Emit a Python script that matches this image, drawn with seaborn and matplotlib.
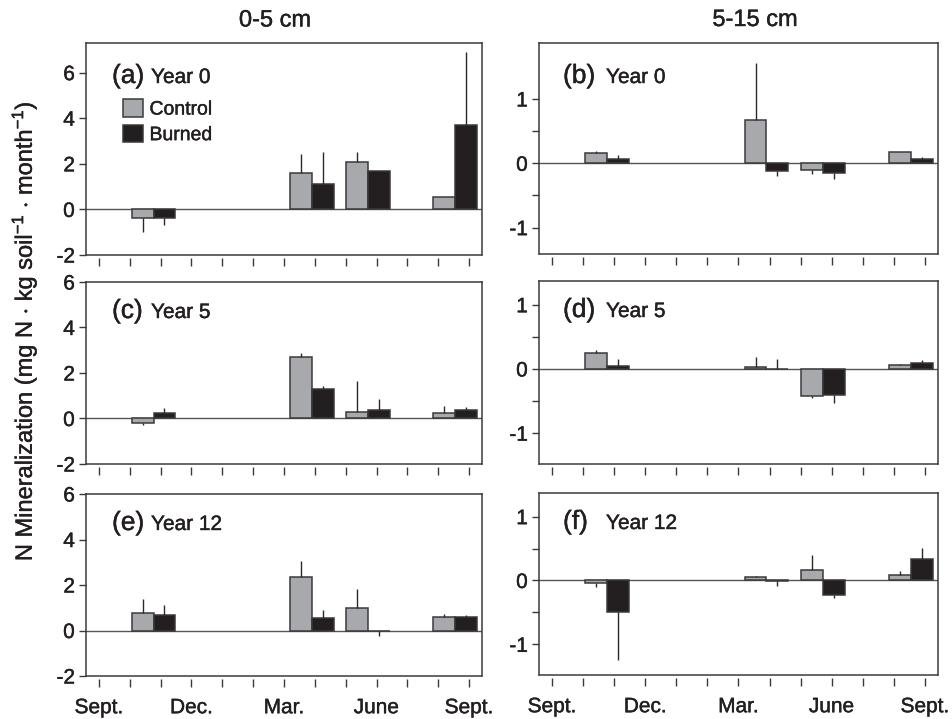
import matplotlib
matplotlib.use("Agg")
import matplotlib.pyplot as plt
import matplotlib.patheffects as pe
import numpy as np
import pandas as pd
import seaborn as sns
from matplotlib.lines import Line2D

sns.set_style("ticks")
plt.rcParams["font.family"] = ["Liberation Sans", "DejaVu Sans"]
plt.rcParams["mathtext.fontset"] = "custom"
plt.rcParams["mathtext.rm"] = "Liberation Sans"
plt.rcParams["mathtext.it"] = "Liberation Sans:italic"
plt.rcParams["mathtext.bf"] = "Liberation Sans:bold"

# ---------------- data ----------------
months = ["Sept.", "Oct.", "Nov.", "Dec.", "Jan.", "Feb.", "Mar.", "Apr.", "May", "June", "July", "Aug.", "Sept."]
month_labels = ["Sept.", "", "", "Dec.", "", "", "Mar.", "", "", "June", "", "", "Sept."]
sample_pos = [1.77, 6.9, 8.72, 11.55]          # sampling dates (month index from Sept.)
treatments = ["Control", "Burned"]

a_ctrl = [-0.37, 1.61, 2.08, 0.53]
a_ctrl_err = [0.61, 0.80, 0.45, 0.0]
a_burn = [-0.37, 1.13, 1.70, 3.69]
a_burn_err = [0.33, 1.40, 0.0, 3.22]

b_ctrl = [0.156, 0.68, -0.10, 0.17]
b_ctrl_err = [0.03, 0.88, 0.07, 0.0]
b_burn = [0.073, -0.125, -0.146, 0.073]
b_burn_err = [0.06, 0.065, 0.10, 0.03]

c_ctrl = [-0.20, 2.70, 0.30, 0.24]
c_ctrl_err = [0.09, 0.16, 1.34, 0.29]
c_burn = [0.23, 1.30, 0.39, 0.39]
c_burn_err = [0.21, 0.13, 0.45, 0.12]

d_ctrl = [0.25, 0.03, -0.42, 0.068]
d_ctrl_err = [0.04, 0.15, 0.035, 0.012]
d_burn = [0.047, 0.005, -0.40, 0.10]
d_burn_err = [0.11, 0.145, 0.13, 0.047]

e_ctrl = [0.79, 2.35, 0.99, 0.58]
e_ctrl_err = [0.60, 0.69, 0.83, 0.15]
e_burn = [0.66, 0.54, -0.02, 0.60]
e_burn_err = [0.46, 0.38, 0.20, 0.09]

f_ctrl = [-0.037, 0.047, 0.158, 0.084]
f_ctrl_err = [0.068, 0.023, 0.237, 0.066]
f_burn = [-0.495, -0.005, -0.226, 0.337]
f_burn_err = [0.755, 0.08, 0.054, 0.179]

panels = [
    ("(a)", "Year 0", a_ctrl, a_ctrl_err, a_burn, a_burn_err),
    ("(b)", "Year 0", b_ctrl, b_ctrl_err, b_burn, b_burn_err),
    ("(c)", "Year 5", c_ctrl, c_ctrl_err, c_burn, c_burn_err),
    ("(d)", "Year 5", d_ctrl, d_ctrl_err, d_burn, d_burn_err),
    ("(e)", "Year 12", e_ctrl, e_ctrl_err, e_burn, e_burn_err),
    ("(f)", "Year 12", f_ctrl, f_ctrl_err, f_burn, f_burn_err),
]
col_titles = ["0-5 cm", "5-15 cm"]
ylabel = r"N Mineralization (mg N $\cdot$ kg soil$^{\mathrm{-1}}$ $\cdot$ month$^{\mathrm{-1}}$)"

# ---------------- style ----------------
W, H = 953, 719
CTRL = "#a7a9ac"
BURN = "#231f20"
EDGE = "#3a3a3a"
FRAME = "#3a3a3a"
TXT = "#231f20"

fig = plt.figure(figsize=(W / 100, H / 100), dpi=100)

def rect(x0, x1, ytop, ybot):
    return [x0 / W, 1 - ybot / H, (x1 - x0) / W, (ybot - ytop) / H]

cols_x = [(86, 482), (539, 938)]
rows_y = [[(43, 255), (43, 254)], [(282, 464), (281, 464)], [(494, 676), (493, 675)]]
ylims = [[(-2, 7.3), (-1.41, 1.87)], [(-2, 6), (-1.48, 1.37)], [(-2, 6), (-1.48, 1.37)]]
label_base = [40, 36, 36]

for i, (tag, year, ctrl, ctrl_err, burn, burn_err) in enumerate(panels):
    r, c = divmod(i, 2)
    x0, x1 = cols_x[c]
    yt, yb = rows_y[r][c]
    ax = fig.add_axes(rect(x0, x1, yt, yb))

    df = pd.DataFrame({
        "pos": sample_pos * 2,
        "trt": ["Control"] * 4 + ["Burned"] * 4,
        "val": list(ctrl) + list(burn),
    })
    ax.axhline(0, color="#555555", lw=1.0, zorder=0.5)
    sns.barplot(data=df, x="pos", y="val", hue="trt", hue_order=treatments,
                palette=[CTRL, BURN], native_scale=True, errorbar=None,
                width=0.775, edgecolor=EDGE, linewidth=1.1, saturation=1,
                legend=(i == 0), ax=ax, zorder=2)

    errs = [ctrl_err, burn_err]
    for cont, ev in zip(ax.containers, errs):
        for bar, e in zip(cont, ev):
            if e <= 0:
                continue
            xc = bar.get_x() + bar.get_width() / 2
            val = bar.get_height() if bar.get_y() == 0 else bar.get_y()
            sgn = 1 if val >= 0 else -1
            ax.plot([xc, xc], [val, val + sgn * e], color="#2a2a2a", lw=1.0, zorder=3,
                    solid_capstyle="butt")

    ax.spines["bottom"].set_position(("outward", 2))
    ax.spines["bottom"].set_visible(False)
    for s in ["top", "left", "right"]:
        ax.spines[s].set_visible(True)
        ax.spines[s].set_color(FRAME)
        ax.spines[s].set_linewidth(1.1)
    ax.add_line(Line2D([0, 1], [0, 0], transform=ax.transAxes, color=FRAME, lw=1.1,
                       clip_on=False, zorder=5))

    ax.set_xlim(-0.42, 12.42)
    ax.set_ylim(*ylims[r][c])
    ax.set_xticks(range(13))
    if r == 2:
        ax.set_xticklabels(month_labels)
    else:
        ax.set_xticklabels([])
    ax.set_xlabel("")
    ax.set_ylabel("")
    if c == 0:
        ax.set_yticks([-2, 0, 2, 4, 6])
        ax.set_yticklabels(["-2", "0", "2", "4", "6"])
    else:
        ax.set_yticks([-1, 0, 1])
        ax.set_yticklabels(["-1", "0", "1"])
        ax.set_yticks([-0.5, 0.5], minor=True)
        ax.tick_params(axis="y", which="minor", length=5, width=1, color=FRAME, direction="out")

    ax.tick_params(axis="x", which="major", direction="out", length=6, width=1,
                   color=FRAME, pad=8, labelcolor=TXT, labelsize=15)
    ax.tick_params(axis="y", which="major", direction="out", length=5, width=1,
                   color=FRAME, pad=3, labelcolor=TXT, labelsize=15)

    # panel labels
    lx = x0 + (26 if c == 0 else 24)
    yx = x0 + (65 if c == 0 else 67)
    by = yt + label_base[r]
    fig.text(lx / W, 1 - by / H, tag, fontsize=19, color=TXT, va="baseline", ha="left")
    fig.text(yx / W, 1 - by / H, year, fontsize=15, color=TXT, va="baseline", ha="left")

    if i == 0:
        handles, labels = ax.get_legend_handles_labels()
        ax.legend(handles, labels, loc="upper left", bbox_to_anchor=(0.094, 0.735),
                  frameon=False, fontsize=14, handlelength=1.0, handleheight=1.0,
                  handletextpad=0.35, labelspacing=0.32, borderpad=0, borderaxespad=0,
                  labelcolor=TXT)

fig.text(275 / W, 1 - 26.5 / H, col_titles[0], fontsize=17, ha="center", va="baseline", color=TXT)
fig.text(755 / W, 1 - 26 / H, col_titles[1], fontsize=17, ha="center", va="baseline", color=TXT)
fig.text(24 / W, 1 - 331 / H, ylabel, fontsize=17, rotation=90, ha="center", va="center", color=TXT)

# slightly heavier text, like the medium-weight face of the original
for t in fig.findobj(matplotlib.text.Text):
    t.set_path_effects([pe.withStroke(linewidth=0.3, foreground=TXT)])

fig.savefig("out.png", dpi=100)
